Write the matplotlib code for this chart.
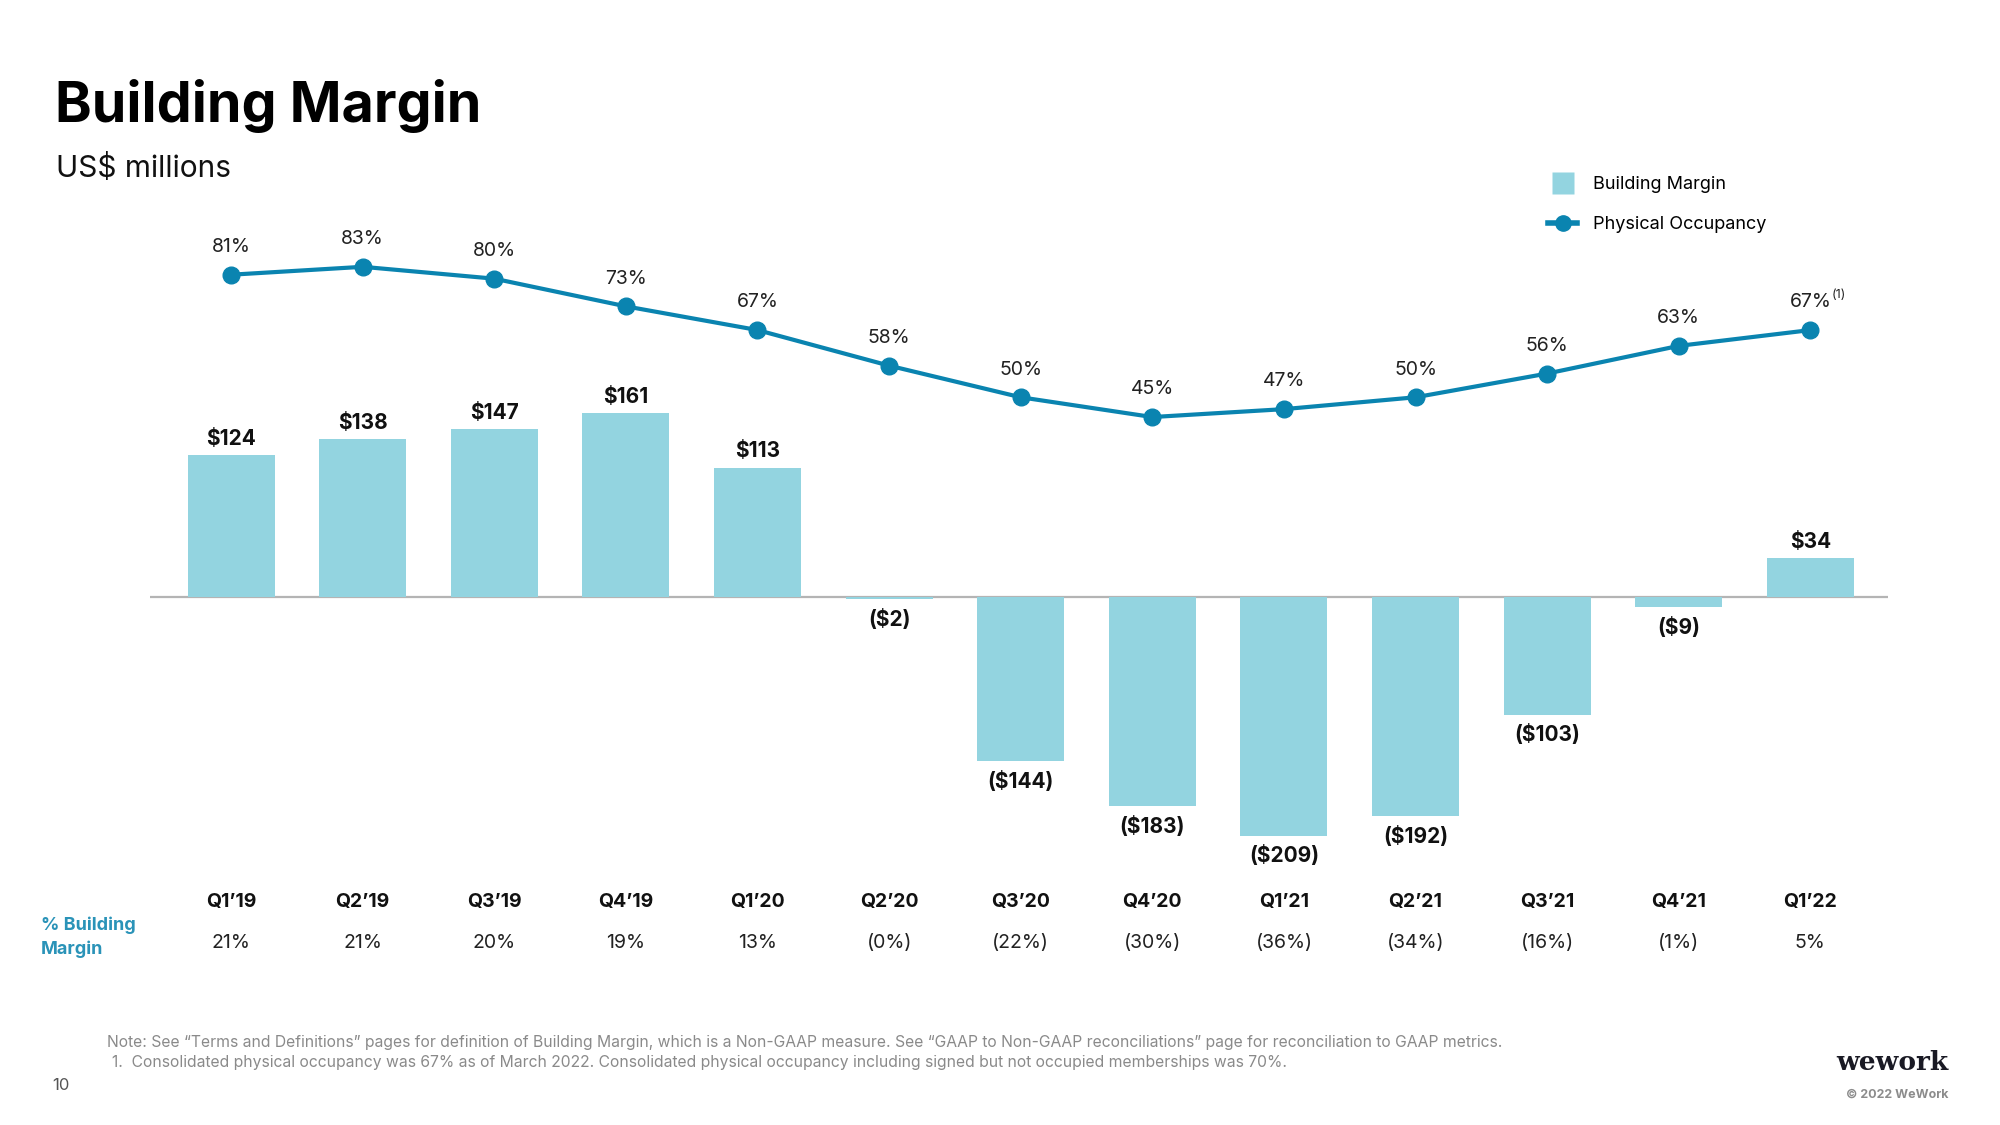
import numpy as np
import matplotlib
matplotlib.use("Agg")
import matplotlib.pyplot as plt
from matplotlib.lines import Line2D
from matplotlib.transforms import blended_transform_factory

plt.rcParams['font.family'] = ['Inter', 'DejaVu Sans']

# Datos
quarters = ["Q1’19", "Q2’19", "Q3’19", "Q4’19", "Q1’20", "Q2’20", "Q3’20",
            "Q4’20", "Q1’21", "Q2’21", "Q3’21", "Q4’21", "Q1’22"]
building_margin = [124, 138, 147, 161, 113, -2, -144, -183, -209, -192, -103, -9, 34]
occupancy = [81, 83, 80, 73, 67, 58, 50, 45, 47, 50, 56, 63, 67]
margin_pct = ["21%", "21%", "20%", "19%", "13%", "(0%)", "(22%)", "(30%)",
              "(36%)", "(34%)", "(16%)", "(1%)", "5%"]

BAR_C = "#93D4E0"
LINE_C = "#0A84B0"
TEAL = "#2A93B8"
GREY = "#8a8a8a"

W, H = 2000, 1125
fig = plt.figure(figsize=(20, 11.25), dpi=100)

def fx(px):
    return px / W

def fy(py):
    return 1 - py / H

# Ejes principales (barras)
ax = fig.add_axes([fx(150), fy(880), (1888 - 150) / W, (880 - 200) / H])
x = np.arange(len(quarters))
ax.bar(x, building_margin, width=0.66, color=BAR_C, zorder=2)
ax.axhline(0, color="#b4b4b4", lw=1.6, zorder=1)
ax.set_xlim(-0.616, 12.59)
ax.set_ylim(-247.9, 347.8)
ax.axis("off")

for i, v in enumerate(building_margin):
    if v >= 0:
        lab = f"${v}"
        off = 12
    else:
        lab = f"(${-v})"
        off = -14.5
    ax.annotate(lab, (i, v), xytext=(0, off), textcoords="offset points",
                ha="center", va="center", fontsize=15, fontweight="bold", color="#111111")

# Eje secundario (ocupación)
ax2 = ax.twinx()
ax2.plot(x, occupancy, color=LINE_C, lw=3, marker="o", markersize=12, zorder=3)
ax2.set_ylim(-72.1, 99.9)
ax2.set_xlim(-0.616, 12.59)
ax2.axis("off")

for i, p in enumerate(occupancy):
    ax2.annotate(f"{p}%", (i, p), xytext=(0, 20), textcoords="offset points",
                 ha="center", va="center", fontsize=14, color="#222222")
ax2.annotate("(1)", (x[-1], occupancy[-1]), xytext=(15.5, 25), textcoords="offset points",
             ha="left", va="center", fontsize=9, color="#222222")

# Etiquetas de trimestre y % margen
tr = blended_transform_factory(ax.transData, fig.transFigure)
for i, (q, m) in enumerate(zip(quarters, margin_pct)):
    ax.text(i, fy(902), q, transform=tr, ha="center", va="center",
            fontsize=14, fontweight="bold", color="#111111")
    ax.text(i, fy(943), m, transform=tr, ha="center", va="center",
            fontsize=14, color="#222222")

fig.text(fx(41), fy(925), "% Building", ha="left", va="center",
         fontsize=13, fontweight="bold", color=TEAL)
fig.text(fx(41), fy(949), "Margin", ha="left", va="center",
         fontsize=13, fontweight="bold", color=TEAL)

# Títulos
fig.text(fx(55), fy(106), "Building Margin", ha="left", va="center",
         fontsize=40, fontweight="bold", color="#000000")
fig.text(fx(56), fy(168), "US$ millions", ha="left", va="center",
         fontsize=21.5, color="#111111")

# Leyenda
handles = [Line2D([0], [0], color="none", marker="s", markersize=16,
                  markerfacecolor=BAR_C, markeredgecolor="none"),
           Line2D([0], [0], color=LINE_C, lw=4, marker="o", markersize=11)]
fig.legend(handles, ["Building Margin", "Physical Occupancy"],
           loc="upper left", bbox_to_anchor=(fx(1532), fy(160)),
           frameon=False, fontsize=13, handlelength=1.6, handletextpad=0.9,
           labelspacing=1.25)

# Notas
fig.text(fx(107), fy(1042),
         "Note: See “Terms and Definitions” pages for definition of Building Margin, which is a "
         "Non-GAAP measure. See “GAAP to Non-GAAP reconciliations” page for reconciliation to GAAP metrics.",
         ha="left", va="center", fontsize=11.3, color=GREY)
fig.text(fx(112), fy(1062),
         "1.  Consolidated physical occupancy was 67% as of March 2022. Consolidated physical occupancy "
         "including signed but not occupied memberships was 70%.",
         ha="left", va="center", fontsize=11.3, color=GREY)

fig.text(fx(52), fy(1086), "10", ha="left", va="center", fontsize=12, color="#555555")
fig.text(fx(1948), fy(1063), "wework", ha="right", va="center", fontsize=19,
         fontweight="bold", family="DejaVu Serif", color="#1a1a24")
fig.text(fx(1948), fy(1095), "© 2022 WeWork", ha="right", va="center", fontsize=9,
         fontweight="bold", color="#8c8c8c")

fig.savefig("out.png", dpi=100, facecolor="white")
